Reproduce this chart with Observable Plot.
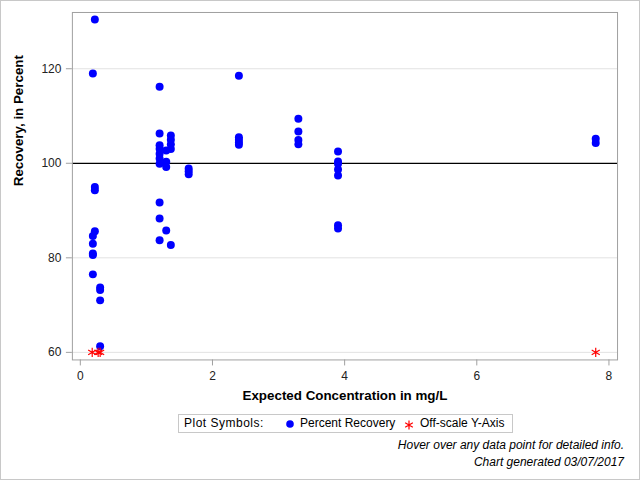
<!DOCTYPE html>
<html>
<head>
<meta charset="utf-8">
<script src="https://cdn.jsdelivr.net/npm/d3@7"></script>
<script src="https://cdn.jsdelivr.net/npm/@observablehq/plot@0.6"></script>
<style>
  html, body { margin: 0; padding: 0; background: #fff; }
  #wrap { position: relative; width: 640px; height: 480px; box-sizing: border-box; border: 1px solid #c8c8c8; font-family: "Liberation Sans", Arial, sans-serif; overflow: hidden; }
  #chart { position: absolute; left: -1px; top: -1px; }
  #legend { position: absolute; left: 177px; top: 413px; width: 333px; height: 17px; border: 1px solid #c8c8c8; font-size: 12px; color: #000; }
  #legend span { position: absolute; top: 1px; white-space: nowrap; }
  #legend svg { position: absolute; top: 0; }
  .foot { position: absolute; right: 15px; font-size: 12px; font-style: italic; color: #000; white-space: nowrap; }
</style>
</head>
<body>
<div id="wrap">
  <div id="chart"></div>
  <div id="legend"></div>
  <div class="foot" id="f1" style="top:437px"></div>
  <div class="foot" id="f2" style="top:454px"></div>
</div>
<script>
// ---- data ----
const concentration = [
  0.22, 0.22, 0.22, 0.22,
  0.19, 0.19, 0.19, 0.19, 0.19, 0.19,
  0.30, 0.30, 0.30, 0.30,
  1.2, 1.2, 1.2, 1.2, 1.2, 1.2, 1.2, 1.2, 1.2, 1.2,
  1.3, 1.3, 1.3, 1.3,
  1.37, 1.37, 1.37, 1.37, 1.37,
  1.64, 1.64, 1.64,
  2.4, 2.4, 2.4, 2.4, 2.4,
  3.3, 3.3, 3.3, 3.3,
  3.9, 3.9, 3.9, 3.9, 3.9, 3.9, 3.9,
  7.8, 7.8
];
const recovery = [
  130.4, 95.0, 94.3, 85.6,
  119.0, 84.6, 83.0, 80.9, 80.6, 76.5,
  73.7, 73.2, 71.0, 61.3,
  116.2, 106.3, 103.8, 103.1, 102.0, 101.0, 99.9, 91.7, 88.3, 83.7,
  102.7, 100.3, 99.2, 85.8,
  105.9, 105.0, 104.0, 103.0, 82.7,
  98.9, 98.3, 97.7,
  118.5, 105.5, 105.0, 104.4, 103.9,
  109.4, 106.7, 104.9, 104.0,
  102.5, 100.4, 99.9, 98.7, 97.4, 86.9, 86.2,
  105.2, 104.3
];
const offscaleConcentration = [0.18, 0.27, 0.30, 7.8];
const offscaleRecovery = [60, 60, 60, 60];

const xTicks = [0, 2, 4, 6, 8];
const yTicks = [60, 80, 100, 120];
const gridValues = [60, 80, 120];
const referenceValue = [100];

const xLabel = "Expected Concentration in mg/L";
const yLabel = "Recovery, in Percent";
const legendTitle = "Plot Symbols:";
const legendNames = ["Percent Recovery", "Off-scale Y-Axis"];
const footnotes = ["Hover over any data point for detailed info.", "Chart generated 03/07/2017"];

const points = concentration.map((c, i) => ({conc: c, rec: recovery[i]}));
const offscale = offscaleConcentration.map((c, i) => ({conc: c, rec: offscaleRecovery[i]}));

const plot = Plot.plot({
  width: 640,
  height: 410,
  marginTop: 12,
  marginLeft: 72,
  marginRight: 22,
  marginBottom: 50,
  style: {fontFamily: '"Liberation Sans", Arial, sans-serif', fontSize: "12px", color: "#222", background: "transparent"},
  x: {domain: [-0.12, 8.13], ticks: xTicks},
  y: {domain: [58.4, 131.9], ticks: yTicks},
  marks: [
    Plot.ruleY(gridValues, {stroke: "#e2e2e2", strokeWidth: 1}),
    Plot.ruleY(referenceValue, {stroke: "#000", strokeWidth: 1.3}),
    Plot.frame({stroke: "#a0a0a0"}),
    Plot.axisX({ticks: xTicks, tickSize: 6, tickPadding: 6, stroke: "#a0a0a0", fill: "#222", label: null}),
    Plot.axisY({ticks: yTicks, tickSize: 6, tickPadding: 5, stroke: "#a0a0a0", fill: "#222", label: null}),
    Plot.dot(points, {x: "conc", y: "rec", r: 4, fill: "#0000ff", stroke: null}),
    Plot.dot(offscale, {x: "conc", y: "rec", symbol: "asterisk", r: 4.4, stroke: "#ff0000", strokeWidth: 1.2}),
    Plot.text([xLabel], {frameAnchor: "bottom", dy: 40, fontWeight: "bold", fontSize: 13.4, fill: "#000"}),
    Plot.text([yLabel], {frameAnchor: "left", dx: -54, rotate: -90, fontWeight: "bold", fontSize: 13.4, fill: "#000"})
  ]
});
document.getElementById("chart").appendChild(plot);

// legend
const lg = document.getElementById("legend");
lg.innerHTML =
  `<span style="left:5px;letter-spacing:0.5px">${legendTitle}</span>` +
  `<svg width="10" height="18" style="left:106px"><circle cx="5" cy="9" r="3.8" fill="#0000ff"/></svg>` +
  `<span style="left:121px">${legendNames[0]}</span>` +
  `<svg width="12" height="18" style="left:224px"><path d="${d3.symbol(d3.symbolAsterisk, 55)()}" transform="translate(6,10)" stroke="#ff0000" stroke-width="1.2" fill="none"/></svg>` +
  `<span style="left:241px">${legendNames[1]}</span>`;
document.getElementById("f1").textContent = footnotes[0];
document.getElementById("f2").textContent = footnotes[1];
</script>
</body>
</html>
